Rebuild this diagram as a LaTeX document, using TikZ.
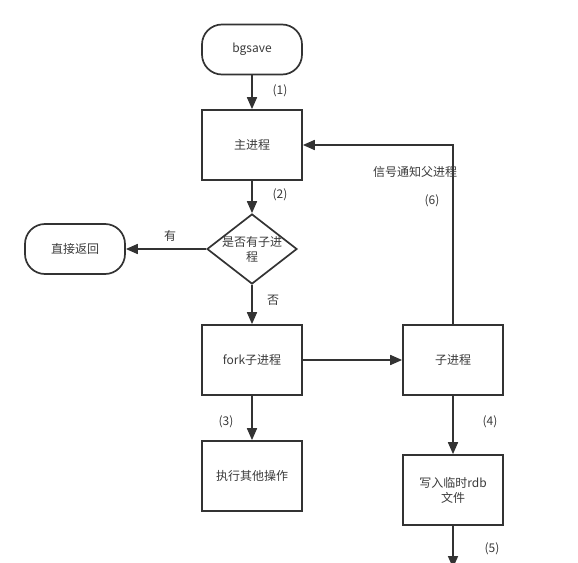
\documentclass[tikz,border=0pt]{standalone}
\usepackage{fontspec}
\setmainfont{Noto Sans CJK SC}
\usetikzlibrary{shapes.geometric,arrows.meta}
\definecolor{linegray}{HTML}{333333}
\definecolor{textgray}{HTML}{3A3A3A}

\begin{document}
\begin{tikzpicture}[x=1pt,y=-1pt,
	every node/.style={text=textgray, font=\fontsize{12}{15}\selectfont},
	box/.style={draw=linegray, line width=1.7pt, rectangle,
		minimum width=100pt, minimum height=70pt, inner sep=2pt, align=center},
	term/.style={draw=linegray, line width=1.7pt, rectangle, rounded corners=20pt,
		minimum width=100pt, minimum height=50pt},
	decision/.style={draw=linegray, line width=1.7pt, diamond,
		minimum width=90pt, minimum height=70pt, inner sep=0pt},
	flow/.style={draw=linegray, line width=1.7pt, -{Triangle[length=12pt,width=10pt]}}]
	\useasboundingbox (0,0) rectangle (578,562);
	\clip (0,0) rectangle (578,562);
	
	% nodes
	\node[term] (bgsave) at (252,49.5) {bgsave};
	\node[box] (main) at (252,145) {主进程};
	\node[decision, label={[align=center, text=textgray]center:是否有子进\\程}] (check) at (252,249) {};
	\node[term] (back) at (75,249) {直接返回};
	\node[box] (fork) at (252,360) {fork子进程};
	\node[box] (child) at (453,360) {子进程};
	\node[box] (other) at (252,476) {执行其他操作};
	\node[box] (rdb) at (453,490) {写入临时rdb\\文件};
	\coordinate (out) at (453,568);
	
	% connectors
	\draw[flow] (bgsave) -- (main);
	\draw[flow] (main) -- (check);
	\draw[flow] (check) -- (back);
	\draw[flow] (check) -- (fork);
	\draw[flow] (fork) -- (child);
	\draw[flow] (fork) -- (other);
	\draw[flow] (child) -- (rdb);
	\draw[flow] (rdb) -- (out);
	\draw[flow] (child.north) |- (main.east);
	
	% labels
	\node (l1) at (280,91) {(1)};
	\node (l2) at (280,195) {(2)};
	\node (lyes) at (170,236) {有};
	\node (lno) at (273,300) {否};
	\node (l3) at (226,422) {(3)};
	\node (l4) at (490,422) {(4)};
	\node (l5) at (492,549) {(5)};
	\node (lsig) at (415,172) {信号通知父进程};
	\node (l6) at (432,201) {(6)};
\end{tikzpicture}
\end{document}
